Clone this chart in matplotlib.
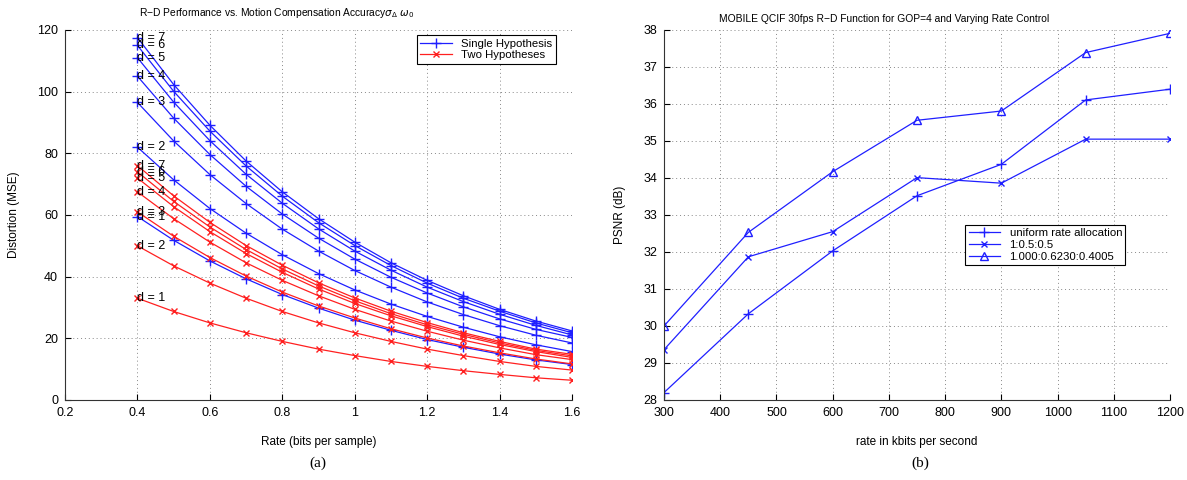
import numpy as np
import matplotlib
matplotlib.use("Agg")
import matplotlib.pyplot as plt

# ---- (a) R-D performance, rate in bits per sample
rate = [0.4, 0.5, 0.6, 0.7, 0.8, 0.9, 1.0, 1.1, 1.2, 1.3, 1.4, 1.5, 1.6]

single_hyp = {
    1: [59.5, 51.8, 45.1, 39.3, 34.2, 29.8, 25.9, 22.6, 19.6, 17.1, 14.9, 13.0, 11.5],
    2: [82.0, 71.4, 62.1, 54.1, 47.1, 41.0, 35.7, 31.1, 27.1, 23.6, 20.5, 17.9, 15.7],
    3: [96.5, 84.0, 73.1, 63.7, 55.4, 48.3, 42.0, 36.6, 31.8, 27.7, 24.1, 21.0, 18.5],
    4: [105.0, 91.4, 79.6, 69.3, 60.3, 52.5, 45.7, 39.8, 34.7, 30.2, 26.3, 22.9, 20.3],
    5: [111.0, 96.6, 84.1, 73.2, 63.8, 55.5, 48.3, 42.1, 36.6, 31.9, 27.8, 24.2, 21.1],
    6: [115.0, 100.1, 87.2, 75.9, 66.1, 57.5, 50.1, 43.6, 37.9, 33.0, 28.8, 25.0, 21.8],
    7: [117.5, 102.3, 89.1, 77.5, 67.5, 58.8, 51.2, 44.5, 38.8, 33.8, 29.4, 25.6, 22.4],
}

two_hyp = {
    1: [33.0, 28.7, 25.0, 21.8, 19.0, 16.5, 14.4, 12.5, 10.9, 9.5, 8.3, 7.2, 6.4],
    2: [50.0, 43.5, 37.9, 33.0, 28.7, 25.0, 21.8, 19.0, 16.5, 14.4, 12.5, 10.9, 9.7],
    3: [61.0, 53.1, 46.2, 40.2, 35.0, 30.5, 26.6, 23.1, 20.1, 17.5, 15.3, 13.3, 11.7],
    4: [67.5, 58.8, 51.2, 44.5, 38.8, 33.8, 29.4, 25.6, 22.3, 19.4, 16.9, 14.7, 13.1],
    5: [72.0, 62.7, 54.6, 47.5, 41.4, 36.0, 31.3, 27.3, 23.8, 20.7, 18.0, 15.7, 13.8],
    6: [74.0, 64.4, 56.1, 48.8, 42.5, 37.0, 32.2, 28.0, 24.4, 21.3, 18.5, 16.1, 14.3],
    7: [76.0, 66.2, 57.6, 50.1, 43.7, 38.0, 33.1, 28.8, 25.1, 21.8, 19.0, 16.5, 14.8],
}

# ---- (b) MOBILE QCIF PSNR vs rate
kbps = [300, 450, 600, 750, 900, 1050, 1200]
psnr_uniform = [28.2, 30.33, 32.03, 33.52, 34.37, 36.11, 36.40]
psnr_half = [29.36, 31.87, 32.55, 34.01, 33.86, 35.05, 35.05]
psnr_opt = [30.0, 32.53, 34.17, 35.56, 35.81, 37.39, 37.91]

BLUE = "#1f1fff"
RED = "#ff2020"

plt.rcParams["font.family"] = ["Liberation Sans", "DejaVu Sans"]
plt.rcParams["font.size"] = 8.5


def matlab_style(ax):
    ax.spines["top"].set_visible(False)
    ax.spines["right"].set_visible(False)
    ax.spines["left"].set_color("#333333")
    ax.spines["bottom"].set_color("#333333")
    ax.tick_params(direction="in", length=4, width=0.8, labelsize=9, pad=5)
    ax.grid(True, linestyle=(0, (1, 3)), color="#888888", linewidth=0.7)
    ax.set_axisbelow(True)


fig = plt.figure(figsize=(11.87, 4.8), dpi=100)

ax1 = fig.add_axes([0.0548, 0.1667, 0.4271, 0.7708])
for d, vals in single_hyp.items():
    ax1.plot(rate, vals, color=BLUE, marker="+", markersize=7, lw=0.9,
             label="Single Hypothesis" if d == 1 else None)
    ax1.text(rate[0], vals[0], "d = %d" % d, fontsize=9, ha="left", va="center")
for d, vals in two_hyp.items():
    ax1.plot(rate, vals, color=RED, marker="x", markersize=4, lw=0.9,
             label="Two Hypotheses" if d == 1 else None)
    ax1.text(rate[0], vals[0], "d = %d" % d, fontsize=9, ha="left", va="center")

ax1.set_xlim(0.2, 1.6)
ax1.set_ylim(0, 120)
ax1.set_xticks(np.arange(0.2, 1.61, 0.2))
ax1.set_xticklabels(["0.2", "0.4", "0.6", "0.8", "1", "1.2", "1.4", "1.6"])
ax1.set_yticks(np.arange(0, 121, 20))
matlab_style(ax1)
ax1.set_xlabel("Rate (bits per sample)", labelpad=12)
ax1.set_ylabel("Distortion (MSE)", labelpad=12)
leg1 = ax1.legend(loc="upper right", bbox_to_anchor=(0.968, 0.986), fontsize=8.2,
                  fancybox=False, edgecolor="black", framealpha=1, borderaxespad=0,
                  handlelength=2.8, borderpad=0.3, labelspacing=0.15)
leg1.get_frame().set_linewidth(0.8)

ax2 = fig.add_axes([0.5594, 0.1667, 0.4263, 0.7708])
ax2.plot(kbps, psnr_uniform, color=BLUE, marker="+", markersize=7, lw=0.9,
         label="uniform rate allocation")
ax2.plot(kbps, psnr_half, color=BLUE, marker="x", markersize=4, lw=0.9,
         label="1:0.5:0.5")
ax2.plot(kbps, psnr_opt, color=BLUE, marker="^", markersize=6, lw=0.9,
         markerfacecolor="none", label="1.000:0.6230:0.4005")
ax2.set_xlim(300, 1200)
ax2.set_ylim(28, 38)
ax2.set_xticks(np.arange(300, 1201, 100))
ax2.set_yticks(np.arange(28, 39, 1))
matlab_style(ax2)
ax2.set_xlabel("rate in kbits per second", labelpad=12)
ax2.set_ylabel("PSNR (dB)", labelpad=12)
leg2 = ax2.legend(loc="upper left", bbox_to_anchor=(0.595, 0.473), fontsize=8.2,
                  fancybox=False, edgecolor="black", framealpha=1, borderaxespad=0,
                  handlelength=2.8, borderpad=0.3, labelspacing=0.15)
leg2.get_frame().set_linewidth(0.8)

# titles sit a little left of the axes centre, as in the original
fig.text(277 / 1187, 1 - 13 / 480,
         "R\u2212D Performance vs. Motion Compensation Accuracy$\\sigma_{\\Delta}\\ \\omega_0$",
         ha="center", va="center", fontsize=7.4)
fig.text(884 / 1187, 1 - 19 / 480,
         "MOBILE QCIF 30fps R\u2212D Function for GOP=4 and Varying Rate Control",
         ha="center", va="center", fontsize=7.4)

fig.text(318 / 1187, 1 - 463 / 480, "(a)", ha="center", va="center",
         fontsize=11, family="Liberation Serif")
fig.text(920 / 1187, 1 - 463 / 480, "(b)", ha="center", va="center",
         fontsize=11, family="Liberation Serif")

fig.savefig("out.png", dpi=100)
